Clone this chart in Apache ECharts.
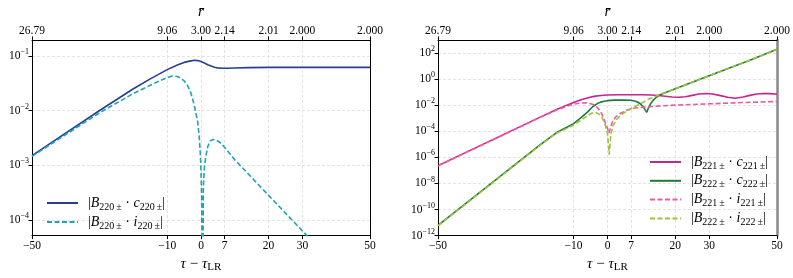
<!DOCTYPE html>
<html><head><meta charset="utf-8">
<script src="https://cdn.jsdelivr.net/npm/echarts@6/dist/echarts.min.js"></script>
<style>html,body{margin:0;padding:0;background:#fff}#c{width:793px;height:278px}</style>
</head><body><div id="c"></div>
<script>
// ---- data ----
const xTicks = [-50, -10, 0, 7, 20, 30, 50];
const rTickLabels = ['26.79', '9.06', '3.00', '2.14', '2.01', '2.000', '2.000'];
const leftYTicks = [1e-4, 1e-3, 1e-2, 1e-1];
const rightYTicks = [1e-12, 1e-10, 1e-8, 1e-6, 1e-4, 1e-2, 1e0, 1e2];

// left panel
const tauC220 = [-50,-30,-20,-15,-10,-7,-5,-3,-2,-1,0,1,2,3,4,5,6,7,8,10,14,20,50];
const valC220 = [1.5e-3,1.0e-2,2.5e-2,3.8e-2,5.6e-2,6.8e-2,7.6e-2,8.1e-2,8.3e-2,8.2e-2,7.9e-2,7.4e-2,6.9e-2,6.5e-2,6.2e-2,6.0e-2,5.96e-2,5.94e-2,5.95e-2,6.0e-2,6.1e-2,6.17e-2,6.17e-2];
const tauI220 = [-50,-30,-20,-15,-12,-10,-8.5,-7,-6,-5,-4,-3,-2,-1,-0.5,-0.2,0,0.2,0.45,0.7,1,1.4,2,2.7,3.5,4.5,6,10,20,31.4,50];
const valI220 = [1.45e-3,9.1e-3,2.05e-2,2.9e-2,3.55e-2,4.0e-2,4.27e-2,4.2e-2,3.9e-2,3.5e-2,2.9e-2,2.1e-2,1.26e-2,6.3e-3,3.2e-3,1.6e-3,8e-4,2.5e-4,1e-6,4e-4,9e-4,1.4e-3,2.2e-3,2.75e-3,2.95e-3,2.9e-3,2.5e-3,1.26e-3,2.8e-4,5.1e-5,3.5e-6];

// right panel
const tauC221 = [-50,-20,-15,-12,-10,-8,-6,-4,-2,0,3,10,13,15,17,19,21,23,25,27,29,31,33,35.5,37.6,40,42,44,46,48,50];
const valC221 = [2.3e-7,1.15e-3,4.7e-3,1.0e-2,1.6e-2,2.5e-2,3.5e-2,4.7e-2,5.5e-2,6.0e-2,6.3e-2,6.3e-2,6.0e-2,5.5e-2,4.8e-2,4.2e-2,4.0e-2,4.4e-2,5.6e-2,7.1e-2,7.8e-2,7.1e-2,5.6e-2,4.0e-2,3.4e-2,4.2e-2,5.6e-2,7.1e-2,7.8e-2,7.6e-2,6.9e-2];
const tauC222 = [-50,-20,-15,-12,-10,-8,-6,-4.3,-3,-2,-1,0,2,5,7,8.5,9.6,10.5,11.2,11.6,12,12.7,13.5,14.5,15.5,17,20,27.3,35,42,50];
const valC222 = [6.2e-12,8.7e-6,7.9e-5,2.0e-4,3.8e-4,1.0e-3,2.8e-3,7.9e-3,1.32e-2,1.7e-2,2.0e-2,2.2e-2,2.4e-2,2.5e-2,2.35e-2,1.9e-2,1.32e-2,7.9e-3,4.0e-3,2.8e-3,5.6e-3,1.26e-2,2.4e-2,4.2e-2,6.3e-2,8.9e-2,0.178,0.95,5.6,28,190];
const tauI221 = [-50,-20,-15,-12,-10,-8,-6.5,-5,-4,-3,-2,-1.2,-0.5,0,0.45,0.9,1.5,2.5,4,6,8,12,18,25,30,40,50];
const valI221 = [2.2e-7,1.1e-3,4.2e-3,8.3e-3,1.17e-2,1.45e-2,1.5e-2,1.3e-2,1.05e-2,6.6e-3,3.2e-3,1.1e-3,3.5e-4,1.6e-4,7.1e-5,2.0e-4,5.6e-4,1.3e-3,2.5e-3,4.5e-3,6.0e-3,7.6e-3,9.5e-3,1.12e-2,1.26e-2,1.58e-2,1.9e-2];
const tauI222 = [-50,-20,-15,-12,-10,-8,-6,-4.5,-3.5,-2.5,-1.5,-0.7,0,0.5,1,1.7,2.7,4,6,8,10,12,14,15.5,17,20,27.3,35,42,50];
const valI222 = [5.6e-12,7.9e-6,7.1e-5,1.66e-4,3.0e-4,6.6e-4,1.5e-3,2.5e-3,2.7e-3,2.1e-3,1.0e-3,3.2e-4,6.3e-5,1.6e-6,6.3e-5,2.8e-4,7.9e-4,1.8e-3,4.0e-3,7.6e-3,1.4e-2,2.8e-2,4.5e-2,6.3e-2,8.9e-2,0.178,0.95,5.6,28,190];

const legendIdx = { c220: ['220', 'c'], i220: ['220', 'i'], c221: ['221', 'c'], c222: ['222', 'c'], i221: ['221', 'i'], i222: ['222', 'i'] };

// ---- chart ----
const FONT = 'Liberation Serif';
const zip = (a, b) => a.map((t, i) => [t, b[i]]);
const minus = s => String(s).replace('-', '\u2212');
const richTxt = {
  g: { fontFamily: FONT, fontSize: 14, lineHeight: 18, width: 5 },
  i: { fontFamily: FONT, fontStyle: 'italic', fontSize: 14, lineHeight: 18, color: '#000' },
  s: { fontFamily: FONT, fontSize: 10, lineHeight: 12, verticalAlign: 'bottom', color: '#000' },
  n: { fontFamily: FONT, fontSize: 14, lineHeight: 18, color: '#000' }
};
const yRich = {
  b: { fontFamily: FONT, fontSize: 11.5, lineHeight: 16, color: '#000' },
  p: { fontFamily: FONT, fontSize: 8, lineHeight: 10, verticalAlign: 'top', color: '#000' }
};
const yFmt = v => '{b|10}{p|' + minus(Math.round(Math.log10(v))) + '}';
const nameRich = {
  i: { fontFamily: FONT, fontStyle: 'italic', fontSize: 15, lineHeight: 18, color: '#000' },
  n: { fontFamily: FONT, fontSize: 15, lineHeight: 18, color: '#000' },
  s: { fontFamily: FONT, fontSize: 11, lineHeight: 12, verticalAlign: 'bottom', color: '#000' }
};
const grid0 = { left: 32, top: 33, width: 338, height: 208 };
const grid1 = { left: 438, top: 33, width: 339, height: 208 };
const gridLine = { show: true, lineStyle: { color: '#dcdcdc', type: [3, 2], width: 0.8 } };

function bottomX(gi) {
  return {
    type: 'value', gridIndex: gi, position: 'bottom', min: -50, max: 50,
    axisLine: { show: true, onZero: false, lineStyle: { color: '#000', width: 1 } },
    axisTick: { show: true, customValues: xTicks, length: 3.5, lineStyle: { color: '#000' } },
    axisLabel: { customValues: xTicks, margin: 4, fontFamily: FONT, fontSize: 11.5, color: '#000', formatter: v => minus(v) },
    splitLine: gridLine,
    name: '{i|\u03c4}{n| \u2212 }{i|\u03c4}{s|LR}', nameLocation: 'middle', nameGap: 15,
    nameTextStyle: { rich: nameRich }
  };
}
function topX(gi) {
  return {
    type: 'value', gridIndex: gi, position: 'top', min: -50, max: 50,
    axisLine: { show: true, onZero: false, lineStyle: { color: '#000', width: 1 } },
    axisTick: { show: true, customValues: xTicks, length: 3.5, lineStyle: { color: '#000' } },
    axisLabel: { customValues: xTicks, margin: 3, fontFamily: FONT, fontSize: 11.5, color: '#000',
      formatter: v => rTickLabels[xTicks.indexOf(Math.round(v))] },
    splitLine: { show: false },
    name: 'r\u0304', nameLocation: 'middle', nameGap: 19,
    nameTextStyle: { fontFamily: FONT, fontStyle: 'italic', fontSize: 15, color: '#000' }
  };
}
function leftY(gi, mn, mx, ticks) {
  return {
    type: 'log', logBase: 10, gridIndex: gi, position: 'left', min: mn, max: mx,
    axisLine: { show: true, onZero: false, lineStyle: { color: '#000', width: 1 } },
    axisTick: { show: true, customValues: ticks, length: 3.5, lineStyle: { color: '#000' } },
    axisLabel: { customValues: ticks, margin: 3, formatter: yFmt, rich: yRich },
    splitLine: gridLine
  };
}
function rightY(gi, color, w) {
  return {
    type: 'value', gridIndex: gi, position: 'right', min: 0, max: 1,
    axisLine: { show: true, onZero: false, lineStyle: { color: color, width: w } },
    axisTick: { show: false }, axisLabel: { show: false }, splitLine: { show: false }
  };
}
function ser(name, xi, yi, tau, val, color, dashed) {
  return {
    name, type: 'line', xAxisIndex: xi, yAxisIndex: yi, data: zip(tau, val),
    symbol: 'none', smooth: false, clip: true,
    lineStyle: { color, width: 1.6, type: dashed ? [5, 2.5] : 'solid' },
    itemStyle: { color }
  };
}
const legendFmt = name => {
  const [n, k] = legendIdx[name];
  return '{g| }{n||}{i|B}{s|' + n + '\u2009\u00b1}{n| \u00b7 }{i|' + k + '}{s|' + n + '\u2009\u00b1}{n||}';
};
const legendCommon = {
  orient: 'vertical', itemWidth: 31, itemHeight: 14, formatter: legendFmt,
  itemStyle: { opacity: 0 },
  textStyle: { rich: richTxt, fontFamily: FONT, fontSize: 14 }
};

const chart = echarts.init(document.getElementById('c'), null, { renderer: 'canvas' });
chart.setOption({
  animation: false,
  backgroundColor: '#fff',
  grid: [grid0, grid1],
  xAxis: [bottomX(0), topX(0), bottomX(1), topX(1)],
  yAxis: [leftY(0, 5.15e-5, 0.196, leftYTicks), rightY(0, '#000', 1),
          leftY(1, 1e-12, 1e3, rightYTicks), rightY(1, '#888', 2.5)],
  legend: [
    Object.assign({ data: ['c220', 'i220'], left: 41, top: 191, itemGap: 3 }, legendCommon),
    Object.assign({ data: ['c221', 'c222', 'i221', 'i222'], left: 644, top: 150, itemGap: 2.8 }, legendCommon)
  ],
  series: [
    ser('c220', 0, 0, tauC220, valC220, '#283f8e', false),
    ser('i220', 0, 0, tauI220, valI220, '#20a3b3', true),
    ser('c221', 2, 2, tauC221, valC221, '#c0278f', false),
    ser('c222', 2, 2, tauC222, valC222, '#1f7a3a', false),
    ser('i221', 2, 2, tauI221, valI221, '#ec5aa0', true),
    ser('i222', 2, 2, tauI222, valI222, '#9cc23c', true)
  ]
});
</script></body></html>
